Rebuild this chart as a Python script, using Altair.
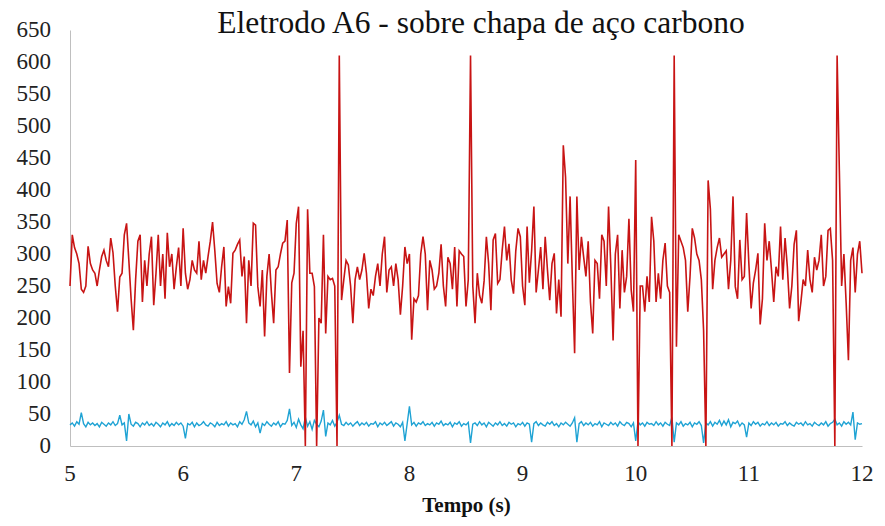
import altair as alt
import pandas as pd

# sampling of the two recorded signals (time step in seconds)
t_start = 5.0
t_step = 0.02

# red trace (voltage-like signal), one row = 0.2 s
red_values = [
    250, 330, 310, 300, 285, 245, 240, 250, 312, 285,
    275, 270, 250, 275, 296, 306, 290, 280, 325, 302,
    250, 210, 264, 270, 330, 348, 290, 230, 181, 260,
    320, 330, 225, 290, 250, 300, 327, 220, 270, 330,
    250, 300, 230, 333, 280, 300, 245, 280, 310, 250,
    340, 270, 245, 260, 290, 275, 270, 320, 260, 290,
    270, 296, 320, 350, 305, 254, 240, 280, 311, 218,
    249, 223, 301, 306, 315, 322, 265, 296, 192, 290,
    250, 348, 345, 249, 218, 275, 171, 265, 300, 240,
    192, 275, 280, 300, 317, 320, 353, 114, 255, 270,
    348, 374, 124, 180, 0, 370, 270, 270, 249, 0,
    200, 192, 330, 176, 265, 260, 262, 250, 0, 610,
    228, 260, 290, 283, 250, 192, 260, 280, 260, 275,
    301, 270, 215, 245, 235, 265, 285, 250, 300, 327,
    240, 275, 280, 250, 285, 260, 205, 250, 311, 285,
    300, 166, 230, 225, 235, 300, 327, 300, 212, 290,
    275, 245, 250, 270, 315, 250, 218, 295, 285, 245,
    311, 218, 305, 300, 296, 218, 260, 610, 250, 192,
    270, 235, 223, 258, 327, 285, 212, 322, 332, 254,
    260, 306, 343, 290, 316, 259, 238, 305, 340, 327,
    250, 220, 343, 255, 305, 374, 240, 275, 311, 245,
    327, 275, 228, 285, 301, 207, 260, 202, 470, 420,
    285, 390, 260, 145, 390, 275, 327, 295, 265, 320,
    225, 176, 290, 285, 230, 330, 320, 250, 374, 280,
    165, 300, 330, 215, 306, 240, 265, 355, 244, 210,
    447, 0, 250, 250, 210, 265, 225, 358, 320, 225,
    270, 230, 290, 317, 250, 240, 0, 610, 155, 330,
    320, 310, 290, 210, 265, 340, 325, 300, 290, 260,
    180, 0, 415, 370, 245, 290, 310, 325, 295, 300,
    305, 245, 290, 390, 249, 230, 322, 260, 265, 364,
    285, 215, 255, 275, 301, 190, 230, 348, 290, 320,
    275, 225, 280, 265, 343, 260, 325, 280, 215, 250,
    315, 337, 195, 225, 260, 250, 306, 260, 240, 295,
    275, 290, 330, 250, 265, 337, 340, 290, 0, 610,
    430, 250, 300, 223, 134, 290, 310, 240, 300, 320,
    270,
]

# cyan trace (current-like signal), one row = 0.2 s
cyan_values = [
    33, 36, 31, 38, 34, 52, 35, 30, 37, 33,
    36, 32, 35, 30, 37, 34, 31, 36, 33, 38,
    32, 35, 48, 33, 36, 8, 50, 34, 31, 37,
    35, 30, 36, 33, 38, 32, 35, 31, 37, 34,
    30, 36, 33, 38, 31, 35, 32, 37, 33, 36,
    31, 12, 35, 33, 37, 30, 36, 32, 34, 38,
    33, 31, 36, 34, 30, 37, 32, 35, 33, 38,
    31, 36, 33, 35, 30, 38, 34, 41, 54, 36,
    33, 39, 30, 36, 20, 35, 32, 38, 34, 31,
    36, 33, 38, 30, 35, 34, 40, 58, 32, 37,
    29, 42, 33, 27, 45, 31, 38, 26, 40, 34,
    30, 39, 56, 15, 36, 33, 40, 31, 37, 48,
    34, 32, 37, 33, 36, 31, 35, 38, 32, 36,
    33, 37, 31, 35, 34, 38, 30, 36, 33, 37,
    32, 35, 38, 31, 36, 34, 30, 37, 8, 35,
    62, 33, 37, 31, 36, 34, 38, 32, 35, 33,
    37, 31, 36, 34, 39, 32, 35, 33, 37, 30,
    36, 34, 38, 31, 35, 33, 37, 5, 34, 36,
    32, 38, 33, 36, 30, 37, 34, 31, 36, 33,
    38, 32, 35, 31, 37, 34, 36, 30, 35, 33,
    37, 31, 36, 34, 6, 35, 38, 32, 36, 33,
    31, 37, 34, 38, 32, 35, 30, 36, 33, 37,
    34, 31, 36, 44, 6, 35, 38, 32, 36, 33,
    37, 31, 35, 33, 38, 30, 36, 34, 32, 37,
    33, 36, 31, 38, 34, 32, 37, 35, 30, 36,
    8, 38, 33, 36, 31, 37, 34, 35, 32, 38,
    33, 36, 31, 37, 34, 32, 45, 6, 36, 33,
    38, 31, 35, 33, 37, 30, 36, 34, 38, 32,
    5, 36, 33, 38, 31, 37, 34, 40, 32, 39,
    33, 41, 30, 37, 35, 39, 31, 36, 33, 14,
    36, 32, 38, 34, 37, 31, 35, 33, 38, 32,
    36, 33, 37, 31, 35, 34, 38, 32, 36, 33,
    31, 37, 34, 36, 32, 38, 33, 35, 31, 37,
    34, 32, 36, 33, 38, 31, 35, 37, 42, 33,
    36, 31, 38, 34, 37, 33, 53, 10, 36, 34,
    35,
]

x_ticks = [5, 6, 7, 8, 9, 10, 11, 12]
y_ticks = list(range(0, 651, 50))

red_times = [round(t_start + i * t_step, 2) for i in range(len(red_values))]
cyan_times = [round(t_start + i * t_step, 2) for i in range(len(cyan_values))]

df_red = pd.DataFrame({"t": red_times, "v": red_values})
df_cyan = pd.DataFrame({"t": cyan_times, "v": cyan_values})
df_xt = pd.DataFrame({"t": x_ticks, "lab": [str(v) for v in x_ticks]})
df_yt = pd.DataFrame({"v": y_ticks, "lab": [str(v) for v in y_ticks]})

FONT = "Liberation Serif"
LABEL_FONT = "Times New Roman"
LABEL_COLOR = "#222222"

x_scale = alt.Scale(domain=[5, 12], nice=False, zero=False)
y_scale = alt.Scale(domain=[0, 650], nice=False)

x_enc = alt.X(
    "t:Q",
    scale=x_scale,
    axis=alt.Axis(values=x_ticks, title="Tempo (s)", labels=False, titlePadding=48),
)
y_enc = alt.Y(
    "v:Q",
    scale=y_scale,
    axis=alt.Axis(values=y_ticks, title=None, labels=False),
)

cyan_line = alt.Chart(df_cyan).mark_line(color="#1FA3D4", strokeWidth=1.4).encode(x=x_enc, y=y_enc)
red_line = alt.Chart(df_red).mark_line(color="#C81414", strokeWidth=1.6).encode(x=x_enc, y=y_enc)

# tick labels as serif text, positioned by the same scales
x_labels = alt.Chart(df_xt).mark_text(
    font=LABEL_FONT, fontSize=23, fontWeight="normal", fontStyle="normal",
    color=LABEL_COLOR, align="center", baseline="top", dy=17,
).encode(x=alt.X("t:Q", scale=x_scale), y=alt.datum(0), text=alt.Text("lab:N"))
y_labels = alt.Chart(df_yt).mark_text(
    font=LABEL_FONT, fontSize=23, fontWeight="normal", fontStyle="normal",
    color=LABEL_COLOR, align="right", baseline="middle", dx=-19,
).encode(y=alt.Y("v:Q", scale=y_scale), x=alt.datum(5), text=alt.Text("lab:N"))

chart = (
    alt.layer(cyan_line, red_line, x_labels, y_labels)
    .properties(
        width=792,
        height=416,
        autosize=alt.AutoSizeParams(type="none"),
        padding={"left": 62, "top": 22, "right": 15, "bottom": 78},
        title=alt.TitleParams(
            "Eletrodo A6 - sobre chapa de aço carbono",
            font=FONT,
            fontSize=31.5,
            fontWeight="normal",
            color="#111111",
            anchor="middle",
            dx=15,
            offset=-20,
        ),
    )
    .configure(background="white", font=FONT)
    .configure_axis(
        titleFont=FONT,
        titleFontSize=21,
        titleFontWeight="bold",
        titleColor="#111111",
        ticks=False,
        grid=False,
        domainColor="#BFBFBF",
        domainWidth=1,
    )
    .configure_view(stroke=None)
)

chart.save("out.html", embed_options={"renderer": "svg", "actions": False})
